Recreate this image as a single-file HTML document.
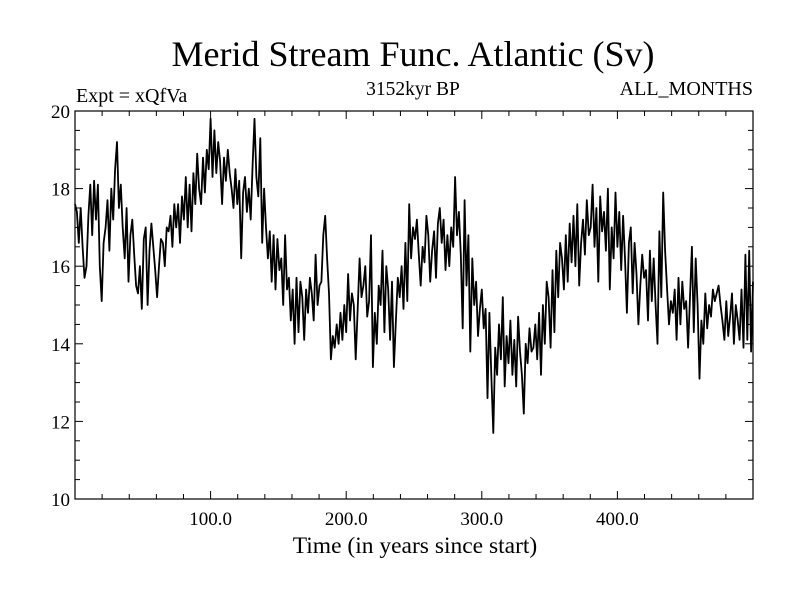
<!DOCTYPE html>
<html><head><meta charset="utf-8"><style>
body{margin:0;background:#fff}
svg{display:block;font-family:"Liberation Serif",serif}
</style></head><body>
<svg id="chart" width="800" height="600" viewBox="0 0 800 600">
<text x="413" y="66" font-size="36" text-anchor="middle">Merid Stream Func. Atlantic (Sv)</text>
<text x="76" y="102" font-size="20">Expt = xQfVa</text>
<text x="413" y="95" font-size="19.5" text-anchor="middle">3152kyr BP</text>
<text x="753" y="95" font-size="20" text-anchor="end">ALL_MONTHS</text>
<text x="415" y="553" font-size="23.5" text-anchor="middle">Time (in years since start)</text>
<g id="ticks"></g>
<path id="series" fill="none" stroke="#000" stroke-width="1.8" stroke-linejoin="round"/>
<rect x="75" y="111" width="678" height="388" fill="none" stroke="#000" stroke-width="1.2"/>
</svg>
<script>
const xTickValues=[100,200,300,400];
const xTickLabels=["100.0","200.0","300.0","400.0"];
const yTickValues=[10,12,14,16,18,20];
const yTickLabels=["10","12","14","16","18","20"];
const seriesValues=[17.6,17.4,16.6,17.5,16.5,15.7,16.0,17.3,
18.1,16.8,18.2,17.2,18.1,16.0,15.1,16.6,17.0,
17.7,16.4,18.0,17.2,18.5,19.2,17.5,18.1,
17.0,16.2,17.5,15.6,16.8,17.2,
16.3,15.5,15.3,16.0,14.9,16.7,17.0,
15.0,16.4,17.1,16.5,15.9,15.2,16.0,16.7,
16.6,16.0,17.0,16.9,17.3,16.5,17.6,17.0,
17.6,16.6,17.8,17.2,18.3,17.0,18.1,16.9,
18.4,17.6,18.9,18.0,17.6,18.8,17.9,
19.0,18.5,19.8,18.3,19.5,18.4,19.2,18.7,
17.6,18.8,18.2,19.0,18.4,18.0,17.5,18.5,
17.6,18.2,16.2,17.9,18.3,17.4,18.0,
17.2,18.6,19.8,18.3,17.8,19.3,16.6,18.0,
17.0,16.2,16.9,15.6,16.8,15.4,16.7,15.9,
16.2,15.0,16.8,15.4,15.7,14.6,15.4,
14.0,15.7,14.3,15.6,15.2,14.1,15.4,
14.8,15.7,15.3,14.6,16.3,15.0,15.5,
15.6,16.8,17.3,16.2,15.3,13.6,14.2,
13.9,14.5,14.0,14.8,14.1,15.0,14.3,
15.8,14.6,15.3,15.0,13.6,14.9,16.2,
15.2,15.5,16.0,14.7,15.1,16.8,13.4,
14.8,14.0,15.5,15.0,16.4,14.3,16.0,
15.4,14.1,15.6,13.4,14.6,15.7,15.2,
16.0,14.9,16.6,15.1,17.6,16.2,17.0,
16.7,17.2,16.3,15.5,16.5,16.1,17.3,
16.8,15.6,16.4,16.9,15.7,17.1,17.5,
16.6,17.2,15.9,16.8,16.0,17.0,16.5,
18.3,16.8,17.4,16.3,14.4,17.7,15.5,
16.8,13.8,16.2,15.0,15.6,14.2,14.9,
15.4,14.4,14.9,12.6,14.8,13.2,11.7,
13.9,13.2,14.5,13.6,15.2,12.9,14.2,
13.5,14.6,13.2,14.1,12.9,14.7,13.8,
13.2,12.2,14.0,13.5,14.4,13.8,13.9,
14.5,13.6,14.8,13.2,15.0,14.0,15.6,
15.2,13.9,15.9,14.3,16.4,15.2,16.6,
16.2,15.4,16.8,15.6,17.1,16.1,17.3,
16.0,17.6,15.5,16.6,17.2,16.3,17.7,
16.8,17.0,18.1,16.5,17.5,15.6,17.8,
16.9,17.4,16.4,18.0,15.4,17.0,16.2,
17.9,16.5,17.4,15.9,17.3,16.2,14.8,
16.6,17.0,15.3,16.6,15.8,14.5,15.5,
16.3,15.7,15.9,14.6,16.4,15.1,16.2,
15.0,14.0,16.9,15.2,17.9,16.4,15.4,
14.5,15.1,14.8,15.4,14.1,15.7,14.5,
15.6,14.9,15.1,13.9,15.2,16.5,14.3,
16.2,15.0,13.1,14.6,14.0,15.3,14.4,
15.0,14.7,15.4,15.1,15.3,15.5,15.0,
14.6,14.1,15.1,14.2,14.7,15.3,14.0,
15.0,14.6,14.1,15.4,13.9,16.3,14.1,
16.4,13.8,15.6];
const xStart=0,xEnd=500,yMin=10,yMax=20;
const L=75,R=753,T=111,B=499;
function xs(v){return L+(v-xStart)/(xEnd-xStart)*(R-L);}
function ys(v){return B-(v-yMin)/(yMax-yMin)*(B-T);}
const NS="http://www.w3.org/2000/svg";
const g=document.getElementById('ticks');
function line(x1,y1,x2,y2,name){
  const l=document.createElementNS(NS,'line');
  l.setAttribute('x1',x1);l.setAttribute('y1',y1);l.setAttribute('x2',x2);l.setAttribute('y2',y2);
  l.setAttribute('stroke','#000');l.setAttribute('stroke-width','1');
  
  
  g.appendChild(l);
}
function text(x,y,s,anchor,name){
  const t=document.createElementNS(NS,'text');
  t.setAttribute('x',x);t.setAttribute('y',y);t.setAttribute('font-size','19');t.setAttribute('text-anchor',anchor);
  t.textContent=s;
  
  
  g.appendChild(t);
}
for(let v=20;v<500;v+=20){
  const x=xs(v);const major=v%100===0;const len=major?8:5;
  line(x,B,x,B-len,'x-tick');line(x,T,x,T+len,'x-tick-top');
}
for(let v=10;v<=20;v+=0.5){
  const y=ys(v);const major=v%2===0;const len=major?8:5;
  line(L,y,L+len,y,'y-tick');line(R,y,R-len,y,'y-tick-right');
}
xTickValues.forEach((v,i)=>text(xs(v),B+26,xTickLabels[i],'middle','x-tick-label'));
yTickValues.forEach((v,i)=>text(L-5,ys(v)+7,yTickLabels[i],'end','y-tick-label'));
const n=seriesValues.length;
let d='';
seriesValues.forEach((v,i)=>{const t=xStart+i*(xEnd-xStart)/(n-1);d+=(i?'L':'M')+xs(t).toFixed(1)+' '+ys(v).toFixed(1);});
document.getElementById('series').setAttribute('d',d);
</script>
</body></html>
